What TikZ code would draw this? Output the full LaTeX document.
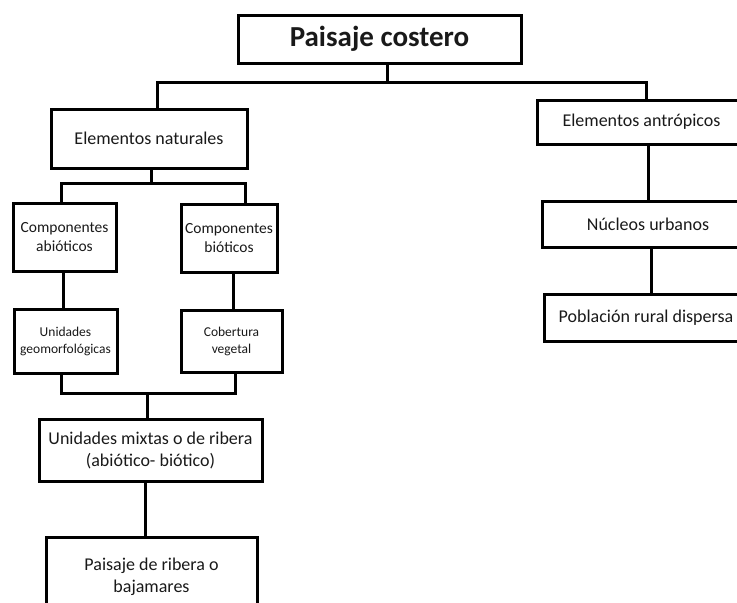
\documentclass[tikz,border=0pt]{standalone}
\usepackage{fontspec}
\setmainfont{Carlito}
\tikzset{
  box/.style={draw, line width=3pt, inner sep=0pt, align=center, text=black!90},
  conn/.style={line width=3pt},
  fbig/.style={font=\fontsize{18}{22}\selectfont},
  fmid/.style={font=\fontsize{15.5}{19}\selectfont},
  fsmall/.style={font=\fontsize{13.5}{17}\selectfont},
}
\begin{document}
\begin{tikzpicture}[x=1pt,y=-1pt]
\useasboundingbox (0,0) rectangle (737,603);
\clip (0,0) rectangle (737,603);
% boxes
\node[box, minimum width=283, minimum height=48, font=\fontsize{29}{34}\selectfont\bfseries] (title) at (379.5,39) {Paisaje costero};
\node[box, fbig, minimum width=196, minimum height=59] (en) at (149,138.5) {Elementos naturales};
\node[box, fbig, minimum width=209, minimum height=44] (ea) at (641.5,122) {Elementos antrópicos};
\node[box, fbig, minimum width=212, minimum height=46] (nu) at (648,224) {Núcleos urbanos};
\node[box, fbig, minimum width=204, minimum height=47] (po) at (646,317.5) {Población rural dispersa};
\node[box, fmid, minimum width=103, minimum height=68] (ca) at (64.5,237) {Componentes\\abióticos};
\node[box, fmid, minimum width=96, minimum height=68] (cb) at (229,238) {Componentes\\bióticos};
\node[box, fsmall, minimum width=103, minimum height=64] (ug) at (65.5,341) {Unidades\\geomorfológicas};
\node[box, fsmall, minimum width=101, minimum height=62] (cv) at (231.5,341) {Cobertura\\vegetal};
\node[box, fbig, minimum width=223, minimum height=62] (um) at (150.5,450) {Unidades mixtas o de ribera\\(abiótico- biótico)};
\node[box, fbig, minimum width=211, minimum height=80] (pr) at (151.5,577) {Paisaje de ribera o\\bajamares};
% junctions
\coordinate (j1) at (387,82);
\coordinate (j2) at (151,183);
\coordinate (j3) at (147,393);
% connectors
\draw[conn] ([xshift=7.5pt]title.south) -- (j1);
\draw[conn] ([xshift=8pt]en.north) |- (j1) -| ([xshift=4.5pt]ea.north);
\draw[conn] ([xshift=2pt]en.south) -- (j2);
\draw[conn] ([xshift=-3.5pt]ca.north) |- (j2) -| ([xshift=16pt]cb.north);
\draw[conn] ([xshift=-1.5pt]ca.south) -- ([xshift=-2.5pt]ug.north);
\draw[conn] ([xshift=4pt]cb.south) -- ([xshift=1.5pt]cv.north);
\draw[conn] ([xshift=-4.5pt]ug.south) |- (j3) -| ([xshift=3.5pt]cv.south);
\draw[conn] (j3) -- ([xshift=-3.5pt]um.north);
\draw[conn] ([xshift=-5.5pt]um.south) -- ([xshift=-6.5pt]pr.north);
\draw[conn] ([xshift=6.5pt]ea.south) -- ([xshift=0pt]nu.north);
\draw[conn] ([xshift=3pt]nu.south) -- ([xshift=5pt]po.north);
\end{tikzpicture}
\end{document}
